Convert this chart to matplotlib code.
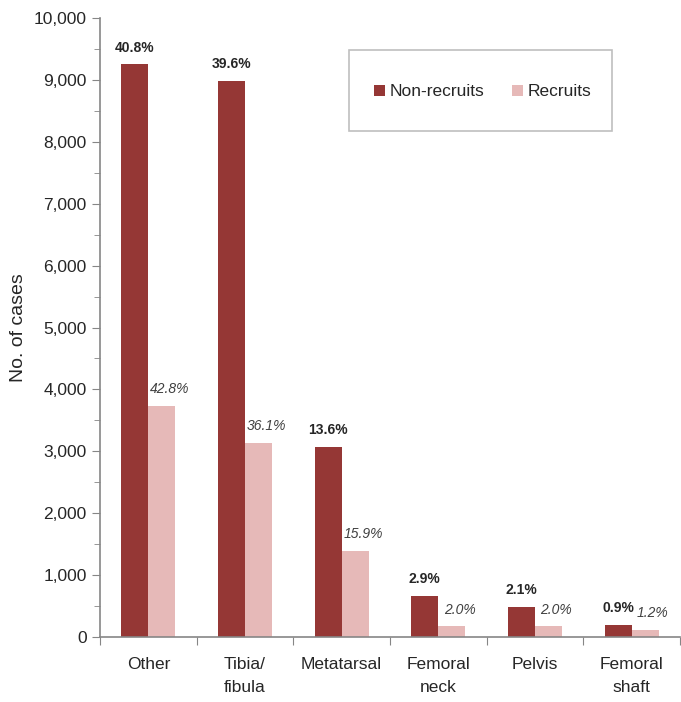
import numpy as np
import matplotlib.pyplot as plt
from matplotlib.patches import Rectangle
from matplotlib.ticker import FuncFormatter, MultipleLocator

plt.rcParams['font.family'] = ['Liberation Sans Narrow', 'Liberation Sans', 'DejaVu Sans']

# datos
categorias = ['Other', 'Tibia/\nfibula', 'Metatarsal', 'Femoral\nneck', 'Pelvis', 'Femoral\nshaft']
no_reclutas = [9250, 8980, 3075, 660, 480, 200]
reclutas = [3730, 3140, 1385, 170, 170, 110]
pct_no_reclutas = ['40.8%', '39.6%', '13.6%', '2.9%', '2.1%', '0.9%']
pct_reclutas = ['42.8%', '36.1%', '15.9%', '2.0%', '2.0%', '1.2%']

color_oscuro = '#953735'
color_claro = '#E6B9B8'
gris = '#868686'
texto = '#262626'

fig = plt.figure(figsize=(6.81, 7.02), dpi=100)
ax = fig.add_axes([100/681, 65/702, 580/681, 619/702])

x = np.arange(len(categorias))
ancho = 0.28
ax.bar(x - ancho/2, no_reclutas, ancho, color=color_oscuro, label='Non-recruits')
ax.bar(x + ancho/2, reclutas, ancho, color=color_claro, label='Recruits')

for i in range(len(categorias)):
    ax.text(x[i] - ancho/2, no_reclutas[i] + 160, pct_no_reclutas[i], ha='center', va='bottom',
            fontsize=10, fontweight='bold', color=texto)
    ax.text(x[i] + ancho/2 + 0.08, reclutas[i] + 160, pct_reclutas[i], ha='center', va='bottom',
            fontsize=10, fontstyle='italic', color='#404040')

ax.set_xlim(-0.5, len(categorias) - 0.5)
ax.set_ylim(0, 10000)
ax.yaxis.set_major_locator(MultipleLocator(1000))
ax.yaxis.set_minor_locator(MultipleLocator(500))
ax.yaxis.set_major_formatter(FuncFormatter(lambda v, p: f'{int(v):,}'))

# ticks del eje x en los límites de categoría
ax.set_xticks(np.arange(len(categorias) + 1) - 0.5)
ax.set_xticklabels([])
ax.tick_params(axis='x', which='major', length=6, color=gris, direction='out')
for i, c in enumerate(categorias):
    ax.text(x[i], -330, c, ha='center', va='top', fontsize=12.5, color=texto, linespacing=1.6)

ax.tick_params(axis='y', which='major', length=6, color=gris, labelsize=12.5, labelcolor=texto)
ax.tick_params(axis='y', which='minor', length=4, color=gris)

for s in ['top', 'right']:
    ax.spines[s].set_visible(False)
ax.spines['left'].set_color(gris)
ax.spines['bottom'].set_color(gris)
ax.spines['left'].set_linewidth(1.2)
ax.spines['bottom'].set_linewidth(1.2)

ax.set_ylabel('No. of cases', fontsize=14, color=texto, labelpad=5)

# leyenda con marco fijo
caja = Rectangle((349/681, 1 - 131/702), 263/681, 81/702, transform=fig.transFigure,
                 facecolor='white', edgecolor='#BFBFBF', linewidth=1.2)
fig.patches.append(caja)
leg = fig.legend(loc='center', bbox_to_anchor=(483/681, 1 - 92/702), ncol=2, frameon=False,
                 fontsize=12.5, handlelength=0.6, handleheight=0.6, handletextpad=0.3,
                 columnspacing=1.6, labelcolor=texto)

fig.savefig('out.png', dpi=100)
